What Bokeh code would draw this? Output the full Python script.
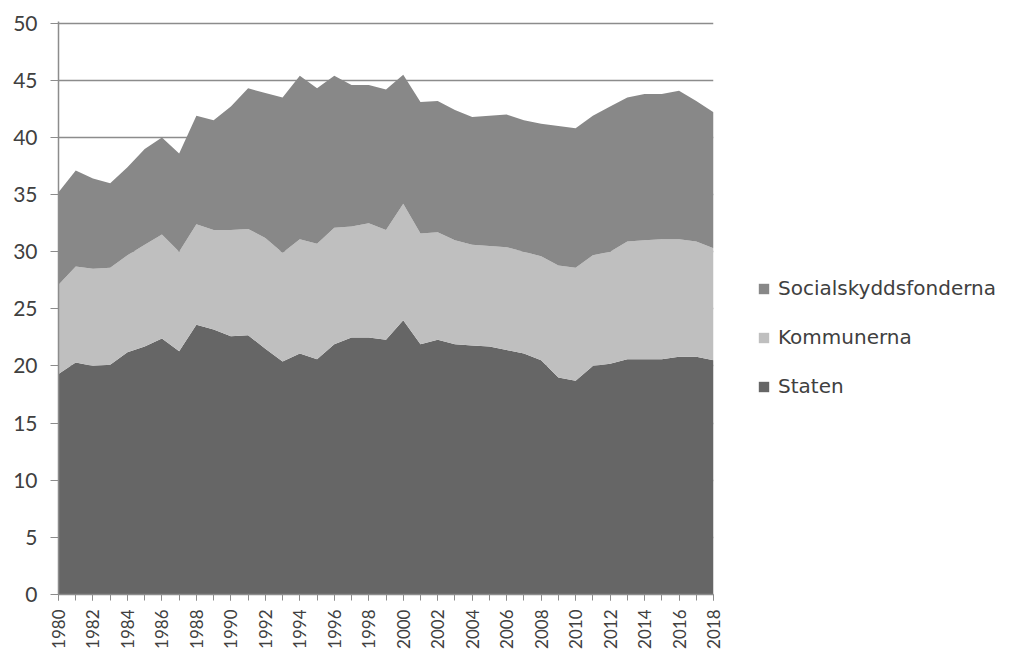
import numpy as np
from bokeh.plotting import figure
from bokeh.layouts import row
from bokeh.models import ColumnDataSource, FixedTicker, Legend, LegendItem, Range1d
from bokeh.embed import file_html
from bokeh.resources import INLINE
from math import pi

years = list(range(1980, 2019))
staten = [19.3, 20.3, 20.0, 20.1, 21.2, 21.7, 22.4, 21.3, 23.6, 23.2, 22.6, 22.7, 21.5, 20.4, 21.1, 20.6, 21.9,
          22.5, 22.5, 22.3, 24.0, 21.9, 22.3, 21.9, 21.8, 21.7, 21.4, 21.1, 20.5, 19.0, 18.7, 20.0, 20.2, 20.6,
          20.6, 20.6, 20.8, 20.8, 20.5]
kommunerna = [7.8, 8.4, 8.5, 8.5, 8.5, 8.9, 9.1, 8.7, 8.8, 8.7, 9.3, 9.3, 9.7, 9.5, 10.0, 10.1, 10.2, 9.7, 10.0,
              9.6, 10.2, 9.7, 9.4, 9.1, 8.8, 8.8, 9.0, 8.9, 9.1, 9.8, 9.9, 9.7, 9.8, 10.3, 10.4, 10.5, 10.3,
              10.1, 9.8]
social = [8.1, 8.4, 7.9, 7.4, 7.7, 8.4, 8.5, 8.6, 9.5, 9.6, 10.8, 12.3, 12.7, 13.6, 14.3, 13.6, 13.3, 12.4, 12.1,
          12.3, 11.3, 11.5, 11.5, 11.4, 11.2, 11.4, 11.6, 11.5, 11.6, 12.2, 12.2, 12.2, 12.7, 12.6, 12.8, 12.7,
          13.0, 12.3, 11.9]
series_names = ["Staten", "Kommunerna", "Socialskyddsfonderna"]
colors = ["#666666", "#bfbfbf", "#888888"]
y_ticks = list(range(0, 51, 5))
x_label_years = list(range(1980, 2019, 2))

source = ColumnDataSource(dict(year=years, staten=staten, kommunerna=kommunerna, social=social))

p = figure(frame_width=655, frame_height=573, output_backend="svg", toolbar_location=None,
           x_range=Range1d(1980, 2018), y_range=Range1d(0, 50.15),
           min_border_left=58, min_border_right=10, min_border_top=21, min_border_bottom=54)
p.outline_line_color = None
p.background_fill_color = "white"

renderers = p.varea_stack(["staten", "kommunerna", "social"], x="year", color=colors, source=source)

# axes
p.xgrid.grid_line_color = None
p.ygrid.grid_line_color = "#8c8c8c"
p.ygrid.grid_line_width = 1.5
p.ygrid.ticker = FixedTicker(ticks=y_ticks)

p.yaxis.ticker = FixedTicker(ticks=y_ticks)
p.yaxis.axis_line_color = "#8c8c8c"
p.yaxis.axis_line_width = 1.5
p.yaxis.major_tick_line_color = "#8c8c8c"
p.yaxis.major_tick_out = 8
p.yaxis.major_tick_in = 0
p.yaxis.minor_tick_line_color = None
p.yaxis.major_label_standoff = 13
p.yaxis.major_label_text_font = "Lato"
p.yaxis.major_label_text_font_size = "21px"
p.yaxis.major_label_text_color = "#404040"

p.xaxis.ticker = FixedTicker(ticks=x_label_years, minor_ticks=years)
p.xaxis.axis_line_color = "#8c8c8c"
p.xaxis.axis_line_width = 1.5
p.xaxis.major_tick_line_color = "#8c8c8c"
p.xaxis.minor_tick_line_color = "#8c8c8c"
p.xaxis.major_tick_out = 6
p.xaxis.major_tick_in = 0
p.xaxis.minor_tick_out = 6
p.xaxis.minor_tick_in = 0
p.xaxis.major_label_orientation = pi / 2
p.xaxis.major_label_standoff = 9
p.xaxis.major_label_text_font = "Lato"
p.xaxis.major_label_text_font_size = "17px"
p.xaxis.major_label_text_color = "#404040"

# legend panel as a separate, axis-less figure (its areas lie outside its view ranges)
H = 648
p2 = figure(width=280, height=H, output_backend="svg", toolbar_location=None,
            x_range=Range1d(0, 1), y_range=Range1d(0, 1),
            x_axis_location=None, y_axis_location=None, min_border=0)
p2.outline_line_color = None
p2.grid.grid_line_color = None
legend_renderers = p2.varea_stack(["staten", "kommunerna", "social"], x="year", color=colors, source=source)
items = [LegendItem(label=series_names[i], renderers=[legend_renderers[i]]) for i in [2, 1, 0]]
legend = Legend(items=items, location=(34, H - 455), border_line_color=None, background_fill_alpha=0,
                glyph_width=13, glyph_height=13, label_standoff=8, spacing=25, padding=10,
                label_text_font="DejaVu Sans", label_text_font_size="20px", label_text_color="#404040",
                label_height=20)
p2.add_layout(legend, "center")

layout = row(p, p2)
open("out.html", "w").write(file_html(layout, INLINE))
